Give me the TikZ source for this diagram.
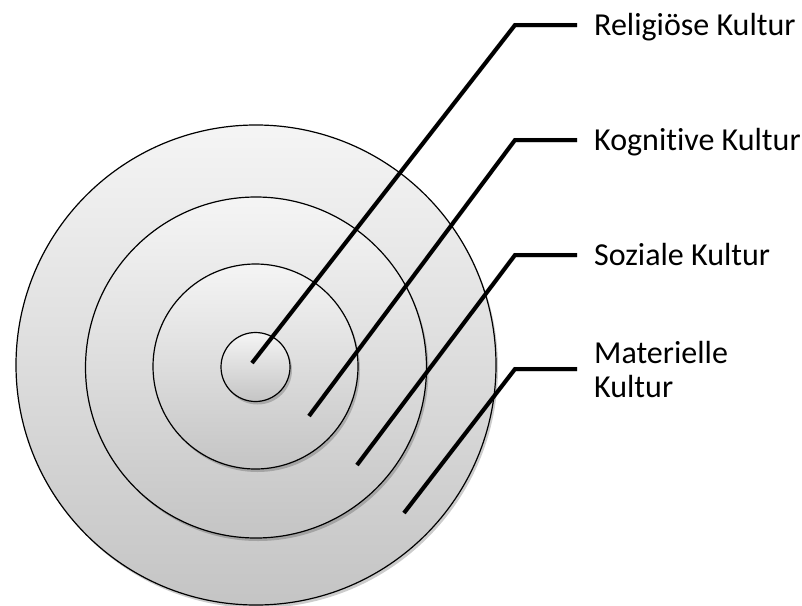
\documentclass[tikz,border=0pt]{standalone}
\usepackage{fontspec}
\setmainfont{Carlito}[Ligatures=NoCommon]
\usetikzlibrary{shadows}
\begin{document}
\begin{tikzpicture}[x=1pt,y=-1pt,
  ring/.style={circle, draw=black, line width=1.2pt, inner sep=0pt, outer sep=0pt,
    top color=white!96!black, bottom color=black!23,
    drop shadow={shadow xshift=2pt, shadow yshift=-3pt, opacity=0.2, fill=black}},
  leader/.style={line width=4pt, line join=miter, black},
  leadershadow/.style={line width=4.5pt, black, opacity=0.18},
  lbl/.style={anchor=base west, inner sep=0pt, font=\fontsize{32}{34}\selectfont, align=left}]
\useasboundingbox (0,0) rectangle (802,605);
% circles
\node[ring, minimum size=480pt] (c4) at (256,365) {};
\node[ring, minimum size=341pt] (c3) at (256,367.5) {};
\node[ring, minimum size=205pt] (c2) at (255.5,366.5) {};
\node[ring, minimum size=69pt]  (c1) at (255.5,367) {};
% leader points
\coordinate (p1) at (252,363);
\coordinate (p2) at (309,416);
\coordinate (p3) at (357,465);
\coordinate (p4) at (404,513);
\coordinate (b1) at (515,25);
\coordinate (b2) at (515,140);
\coordinate (b3) at (515,255);
\coordinate (b4) at (515,369);
\coordinate (e1) at (577,25);
\coordinate (e2) at (577,140);
\coordinate (e3) at (577,255);
\coordinate (e4) at (577,369);
% shadows of leaders
\begin{scope}[shift={(1.5,2)}]
\draw[leadershadow] (p1) -- (b1) -- (e1);
\draw[leadershadow] (p2) -- (b2) -- (e2);
\draw[leadershadow] (p3) -- (b3) -- (e3);
\draw[leadershadow] (p4) -- (b4) -- (e4);
\end{scope}
\draw[leader] (p1) -- (b1) -- (e1);
\draw[leader] (p2) -- (b2) -- (e2);
\draw[leader] (p3) -- (b3) -- (e3);
\draw[leader] (p4) -- (b4) -- (e4);
% labels
\node[lbl] (l1) at (594,35) {Religiöse Kultur};
\node[lbl] (l2) at (594,150) {Kognitive Kultur};
\node[lbl] (l3) at (594,265) {Soziale Kultur};
\node[lbl] (l4) at (594,397) {Materielle\\Kultur};
\end{tikzpicture}
\end{document}
